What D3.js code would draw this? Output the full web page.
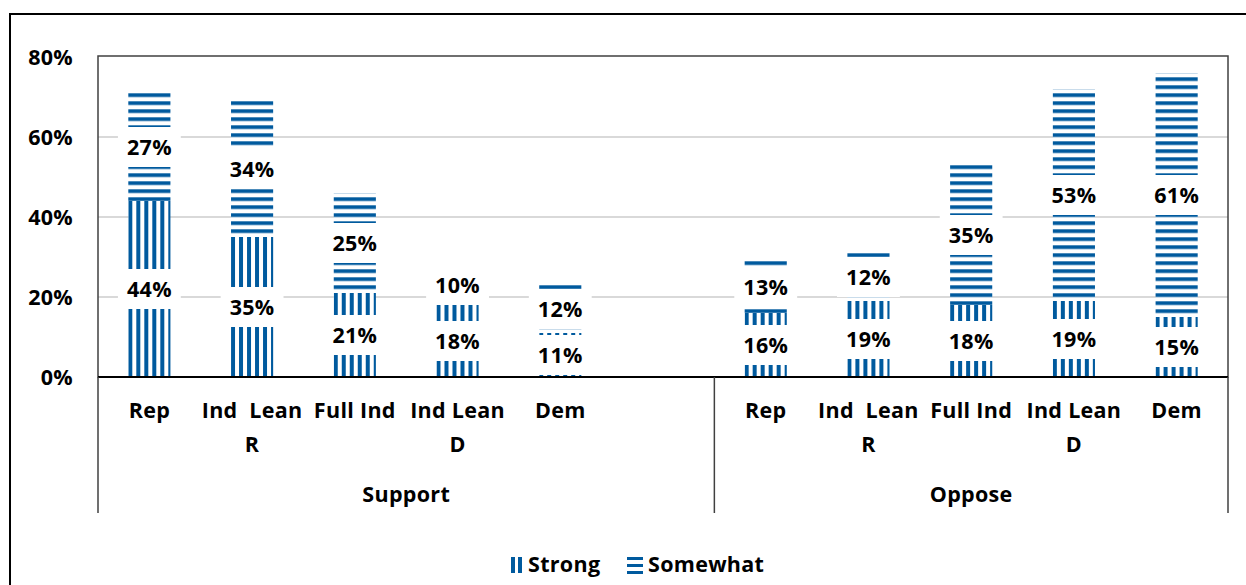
<!DOCTYPE html>
<html>
<head>
<meta charset="utf-8">
<script src="https://cdn.jsdelivr.net/npm/d3@7"></script>
<style>
  body { margin: 0; background: #fff; }
  svg { display: block; font-family: "Open Sans", Lato, sans-serif; font-weight: bold; }
</style>
</head>
<body>
<svg id="chart"></svg>
<script>
const width = 1246;
const height = 585;

// data
const groups = ["Support", "Oppose"];
const parties = ["Rep", "Ind  Lean R", "Full Ind", "Ind Lean D", "Dem"];
const partyLines = [["Rep"], ["Ind  Lean", "R"], ["Full Ind"], ["Ind Lean", "D"], ["Dem"]];
const strongSupport = [44, 35, 21, 18, 11];
const somewhatSupport = [27, 34, 25, 10, 12];
const strongOppose = [16, 19, 18, 19, 15];
const somewhatOppose = [13, 12, 35, 53, 61];
const yTicks = [0, 20, 40, 60, 80];
const seriesNames = ["Strong", "Somewhat"];

const blue = "#005a9e";
const fontSize = 21.5;
const spacing = 0.3;

const svg = d3.select("#chart")
  .attr("width", width)
  .attr("height", height);

/* ---------------------------
Rows and scales
--------------------------- */

const rows = [];
parties.forEach((p, i) => rows.push({ key: "S" + i, group: 0, party: i, strong: strongSupport[i], somewhat: somewhatSupport[i] }));
const slots = rows.map(r => r.key).concat(["gap"]);
parties.forEach((p, i) => {
  rows.push({ key: "O" + i, group: 1, party: i, strong: strongOppose[i], somewhat: somewhatOppose[i] });
  slots.push("O" + i);
});

const plotLeft = 98, plotRight = 1228, plotTop = 56, axisY = 377;

const x = d3.scaleBand()
  .domain(slots)
  .range([plotLeft, plotRight])
  .paddingInner(0.59)
  .paddingOuter(0.295);

const y = d3.scaleLinear()
  .domain([0, 80])
  .range([axisY, 57]);

/* ---------------------------
Patterns
--------------------------- */

const defs = svg.append("defs");

rows.forEach(r => {
  const p = defs.append("pattern")
    .attr("id", "v" + r.key)
    .attr("patternUnits", "userSpaceOnUse")
    .attr("x", x(r.key))
    .attr("y", 0)
    .attr("width", 8)
    .attr("height", 8);
  p.append("rect").attr("width", 8).attr("height", 8).attr("fill", "#fff");
  p.append("rect").attr("width", 4).attr("height", 8).attr("fill", blue);
});

const hp = defs.append("pattern")
  .attr("id", "hstripe")
  .attr("patternUnits", "userSpaceOnUse")
  .attr("x", 0)
  .attr("y", 5.3)
  .attr("width", 8)
  .attr("height", 8);
hp.append("rect").attr("width", 8).attr("height", 8).attr("fill", "#fff");
hp.append("rect").attr("width", 8).attr("height", 3.7).attr("fill", blue);

/* ---------------------------
Frames and gridlines
--------------------------- */

svg.append("rect")
  .attr("x", 10).attr("y", 14)
  .attr("width", 1260).attr("height", 620)
  .attr("fill", "none")
  .attr("stroke", "#000")
  .attr("stroke-width", 2);

svg.selectAll("line.grid")
  .data(yTicks.filter(t => t > 0 && t < 80))
  .enter()
  .append("line")
  .attr("class", "grid")
  .attr("x1", plotLeft).attr("x2", plotRight)
  .attr("y1", d => y(d)).attr("y2", d => y(d))
  .attr("stroke", "#d9d9d9")
  .attr("stroke-width", 2);

/* ---------------------------
Bars
--------------------------- */

const segs = [];
rows.forEach(r => {
  segs.push({ key: r.key, y0: 0, y1: r.strong, v: r.strong, fill: "url(#v" + r.key + ")" });
  segs.push({ key: r.key, y0: r.strong, y1: r.strong + r.somewhat, v: r.somewhat, fill: "url(#hstripe)" });
});

svg.selectAll("rect.bar")
  .data(segs)
  .enter()
  .append("rect")
  .attr("class", "bar")
  .attr("x", d => x(d.key))
  .attr("width", x.bandwidth())
  .attr("y", d => y(d.y1))
  .attr("height", d => y(d.y0) - y(d.y1))
  .attr("fill", d => d.fill);

// data labels with white boxes
const lab = svg.selectAll("g.lab")
  .data(segs)
  .enter()
  .append("g")
  .attr("class", "lab")
  .attr("transform", d => `translate(${x(d.key) + x.bandwidth() / 2},${y((d.y0 + d.y1) / 2)})`);

lab.append("rect").attr("fill", "#fff");
lab.append("text")
  .attr("text-anchor", "middle")
  .attr("dy", "0.36em")
  .attr("font-size", fontSize)
  .attr("letter-spacing", spacing)
  .text(d => d.v + "%");

lab.each(function() {
  const g = d3.select(this);
  const w = g.select("text").node().getComputedTextLength();
  g.select("rect")
    .attr("x", -(w + 18) / 2).attr("width", w + 18)
    .attr("y", -20).attr("height", 40);
});

/* ---------------------------
Axes
--------------------------- */

svg.append("rect")
  .attr("x", plotLeft).attr("y", plotTop)
  .attr("width", plotRight - plotLeft).attr("height", axisY - plotTop)
  .attr("fill", "none")
  .attr("stroke", "#404040")
  .attr("stroke-width", 1.5);

svg.append("line")
  .attr("x1", plotLeft).attr("x2", plotRight)
  .attr("y1", axisY).attr("y2", axisY)
  .attr("stroke", "#000")
  .attr("stroke-width", 2);

const sepX = x("O0") - x.step() * x.paddingOuter();

[plotLeft, sepX, plotRight].forEach(px => {
  svg.append("line")
    .attr("x1", px).attr("x2", px)
    .attr("y1", axisY).attr("y2", 513)
    .attr("stroke", "#404040")
    .attr("stroke-width", 1.5);
});

svg.selectAll("text.ytick")
  .data(yTicks)
  .enter()
  .append("text")
  .attr("class", "ytick")
  .attr("x", 73)
  .attr("y", d => y(d))
  .attr("dy", "0.36em")
  .attr("text-anchor", "end")
  .attr("font-size", fontSize)
  .attr("letter-spacing", spacing)
  .text(d => d + "%");

const cat = svg.selectAll("text.cat")
  .data(rows)
  .enter()
  .append("text")
  .attr("class", "cat")
  .attr("text-anchor", "middle")
  .attr("font-size", fontSize)
  .attr("letter-spacing", spacing);

cat.selectAll("tspan")
  .data(d => partyLines[d.party].map(t => ({ t, cx: x(d.key) + x.bandwidth() / 2 })))
  .enter()
  .append("tspan")
  .attr("x", d => d.cx)
  .attr("y", (d, i) => 418 + i * 34)
  .style("white-space", "pre")
  .text(d => d.t);

const groupCenters = [(plotLeft + sepX) / 2, (sepX + plotRight) / 2];

svg.selectAll("text.group")
  .data(groups)
  .enter()
  .append("text")
  .attr("class", "group")
  .attr("x", (d, i) => groupCenters[i])
  .attr("y", 502)
  .attr("text-anchor", "middle")
  .attr("font-size", fontSize)
  .attr("letter-spacing", spacing)
  .text(d => d);

/* ---------------------------
Legend
--------------------------- */

const legend = svg.append("g");
// strong icon: vertical bars
[511, 518].forEach(lx => {
  legend.append("rect").attr("x", lx).attr("y", 557).attr("width", 4).attr("height", 16).attr("fill", blue);
});
legend.append("text")
  .attr("x", 528).attr("y", 572)
  .attr("font-size", fontSize).attr("letter-spacing", spacing)
  .text(seriesNames[0]);
// somewhat icon: horizontal bars
[557, 564, 571].forEach(ly => {
  legend.append("rect").attr("x", 627).attr("y", ly).attr("width", 16).attr("height", 3).attr("fill", blue);
});
legend.append("text")
  .attr("x", 648).attr("y", 572)
  .attr("font-size", fontSize).attr("letter-spacing", spacing)
  .text(seriesNames[1]);
</script>
</body>
</html>
